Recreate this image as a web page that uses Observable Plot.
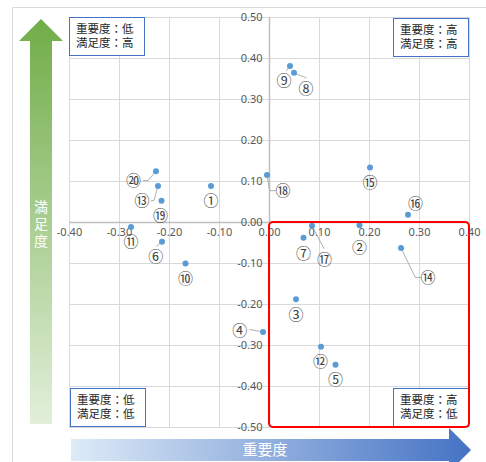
<!DOCTYPE html>
<html><head><meta charset="utf-8">
<script src="https://cdn.jsdelivr.net/npm/d3@7"></script>
<script src="https://cdn.jsdelivr.net/npm/@observablehq/plot@0.6"></script>
<style>
body{margin:0;background:#fff}
#chart{position:relative;width:486px;height:462px;overflow:hidden;background:#fff}
</style>
</head><body><div id="chart"></div>
<script>
// ---- data ----
const ids = [1,2,3,4,5,6,7,8,9,10,11,12,13,14,15,16,17,18,19,20];
const labels = ["①","②","③","④","⑤","⑥","⑦","⑧","⑨","⑩","⑪","⑫","⑬","⑭","⑮","⑯","⑰","⑱","⑲","⑳"];
const importance   = [-0.117, 0.180, 0.053, -0.013, 0.132, -0.215, 0.068, 0.049, 0.041, -0.168, -0.277, 0.103, -0.223, 0.263, 0.201, 0.277, 0.085, -0.005, -0.216, -0.227];
const satisfaction = [0.089, -0.007, -0.187, -0.267, -0.347, -0.047, -0.037, 0.365, 0.382, -0.100, -0.011, -0.303, 0.089, -0.062, 0.134, 0.019, -0.008, 0.116, 0.053, 0.125];
const xTicks = [-0.4,-0.3,-0.2,-0.1,0,0.1,0.2,0.3,0.4];
const yTicks = [-0.5,-0.4,-0.3,-0.2,-0.1,0,0.1,0.2,0.3,0.4,0.5];
const quadrantLabels = [["重要度：低","満足度：高"],["重要度：高","満足度：高"],["重要度：低","満足度：低"],["重要度：高","満足度：低"]];
const xTitle = "重要度";
const yTitle = "満足度";
const focusRegion = [{x1:0, x2:0.4, y1:-0.5, y2:0}];

// ---- label placement (pixel offsets from each point; styling) ----
const labelOffsetPx = [[0,15.6],[0,22.7],[0,15.6],[-23.3,-1],[0,15.7],[-6.3,15.4],[0,16.3],[12,16],[-6,15.7],[0,15.3],
                       [0,15.6],[-0.6,15.7],[-16,15.3],[27,30.7],[0,15.3],[7.6,-10.3],[12.4,34.7],[16,16],[-1,15.7],[-22.6,10]];
const leaderPx = {4:[[-13,-2.4]], 6:[[-5.3,4.4]], 8:[[12,5]], 9:[[-3.5,4.5]], 13:[[-4,14.3],[-7,15]],
                  14:[[14.3,29.4],[20,29.7]], 17:[[12,22.7]], 18:[[2.7,15.7],[8.7,15.7]], 20:[[-8,9.3],[-12.6,9.3]]};

// ---- layout ----
const W = 486, H = 462, mL = 69, mR = 17, mT = 17, mB = 35;
const xDom = [-0.4,0.4], yDom = [-0.5,0.5];
const kx = (xDom[1]-xDom[0])/(W-mL-mR), ky = (yDom[1]-yDom[0])/(H-mT-mB);

const points = ids.map((id,i)=>({id, label:labels[i], x:importance[i], y:satisfaction[i]}));
const labelPts = points.map((p,i)=>({label:p.label, x:p.x+labelOffsetPx[i][0]*kx, y:p.y-labelOffsetPx[i][1]*ky}));
const leaders = [];
points.forEach(p=>{
  const l = leaderPx[p.id]; if(!l) return;
  leaders.push({id:p.id, x:p.x, y:p.y});
  l.forEach(([dx,dy])=>leaders.push({id:p.id, x:p.x+dx*kx, y:p.y-dy*ky}));
});

const fmt = d => d.toFixed(2);
const tickFont = "'Noto Sans', 'DejaVu Sans', sans-serif";
const jpFont = "'Noto Sans CJK JP', 'Noto Sans', sans-serif";

const plot = Plot.plot({
  width: W, height: H,
  marginLeft: mL, marginRight: mR, marginTop: mT, marginBottom: mB,
  x: {domain: xDom, axis: null},
  y: {domain: yDom, axis: null},
  style: {background: "transparent", fontFamily: tickFont, fontSize: "11px", overflow: "visible"},
  marks: [
    Plot.gridX(xTicks, {stroke: "#d9d9d9", strokeOpacity: 1, strokeWidth: 1}),
    Plot.gridY(yTicks, {stroke: "#d9d9d9", strokeOpacity: 1, strokeWidth: 1}),
    Plot.ruleX([0], {stroke: "#bfbfbf", strokeWidth: 1.5}),
    Plot.ruleY([0], {stroke: "#bfbfbf", strokeWidth: 1.5}),
    Plot.text(xTicks, {x: d=>d, y: 0, dy: 10, text: fmt, fill: "#595959", fontSize: 11}),
    Plot.text(yTicks, {x: 0, y: d=>d, dx: -7, text: fmt, textAnchor: "end", fill: "#595959", fontSize: 11}),
    Plot.line(leaders, {x: "x", y: "y", z: "id", stroke: "#a6a6a6", strokeWidth: 0.9}),
    Plot.dot(points, {x: "x", y: "y", r: 3, fill: "#5B9BD5", stroke: "none"}),
    Plot.text(labelPts, {x: "x", y: "y", text: "label", fontSize: 15, fill: "#404040", fontFamily: jpFont}),
    Plot.rect(focusRegion, {x1: "x1", x2: "x2", y1: "y1", y2: "y2", fill: "none", stroke: "#ff0000", strokeWidth: 2, rx: 4})
  ]
});
document.getElementById("chart").appendChild(plot);

// ---- decorations ----
const svg = d3.select(plot);
const xs = plot.scale("x"), ys = plot.scale("y");
const fl = xs.apply(xDom[0]), fr = xs.apply(xDom[1]), ft = ys.apply(yDom[1]), fb = ys.apply(yDom[0]);

const deco = svg.append("g");
deco.lower();
const defs = svg.append("defs");
defs.lower();
const g1 = defs.append("linearGradient").attr("id","gGreen").attr("x1",0).attr("y1",0).attr("x2",0).attr("y2",1);
g1.append("stop").attr("offset","0%").attr("stop-color","#70AD47");
g1.append("stop").attr("offset","100%").attr("stop-color","#E2EFDA");
const g2 = defs.append("linearGradient").attr("id","gBlue").attr("x1",0).attr("y1",0).attr("x2",1).attr("y2",0);
g2.append("stop").attr("offset","0%").attr("stop-color","#DEEBF7");
g2.append("stop").attr("offset","100%").attr("stop-color","#4472C4");

// chart border
deco.append("path").attr("d",`M12.5,${H} V7.5 H${W}`).attr("fill","none").attr("stroke","#d9d9d9");

// green vertical arrow
const ax = 41;
deco.append("path")
  .attr("d",`M${ax},19 L${ax+22},41 L${ax+11},41 L${ax+11},424 L${ax-11},424 L${ax-11},41 L${ax-22},41 Z`)
  .attr("fill","url(#gGreen)");
deco.append("text").attr("x",ax).attr("y",225)
  .attr("text-anchor","middle").attr("fill","#fff").attr("font-size",14)
  .attr("font-family",jpFont)
  .style("writing-mode","vertical-rl").style("text-orientation","upright").style("letter-spacing","3px")
  .text(yTitle);
// blue horizontal arrow
const ay = 450;
deco.append("path")
  .attr("d",`M71,${ay-11} L449,${ay-11} L449,${ay-22} L471,${ay} L449,${ay+22} L449,${ay+11} L71,${ay+11} Z`)
  .attr("fill","url(#gBlue)");
deco.append("text").attr("x",265).attr("y",ay).attr("dy","0.35em")
  .attr("text-anchor","middle").attr("fill","#fff").attr("font-size",15)
  .attr("font-family",jpFont).text(xTitle);

// quadrant boxes
const bw = 75, bh = 38;
const boxPos = [[fl, ft], [fr-bw-1, ft+1], [fl+1, fb-bh-1], [fr-bw-1, fb-bh-1]];
const boxes = svg.append("g").attr("text-anchor","start");
quadrantLabels.forEach((lines,i)=>{
  const [bx,by] = boxPos[i];
  boxes.append("rect").attr("x",bx+0.5).attr("y",by+0.5).attr("width",bw).attr("height",bh)
    .attr("fill","#fff").attr("stroke","#4472C4").attr("stroke-width",1);
  const t = boxes.append("text").attr("text-anchor","start")
    .attr("font-size",11.5).attr("fill","#262626").attr("font-family",jpFont);
  lines.forEach((s,j)=>{
    t.append("tspan").attr("x",bx+7).attr("y",by+12+j*14).attr("dy","0.35em").text(s);
  });
});
svg.selectAll("g[aria-label=rect]").raise();
</script>
</body></html>
